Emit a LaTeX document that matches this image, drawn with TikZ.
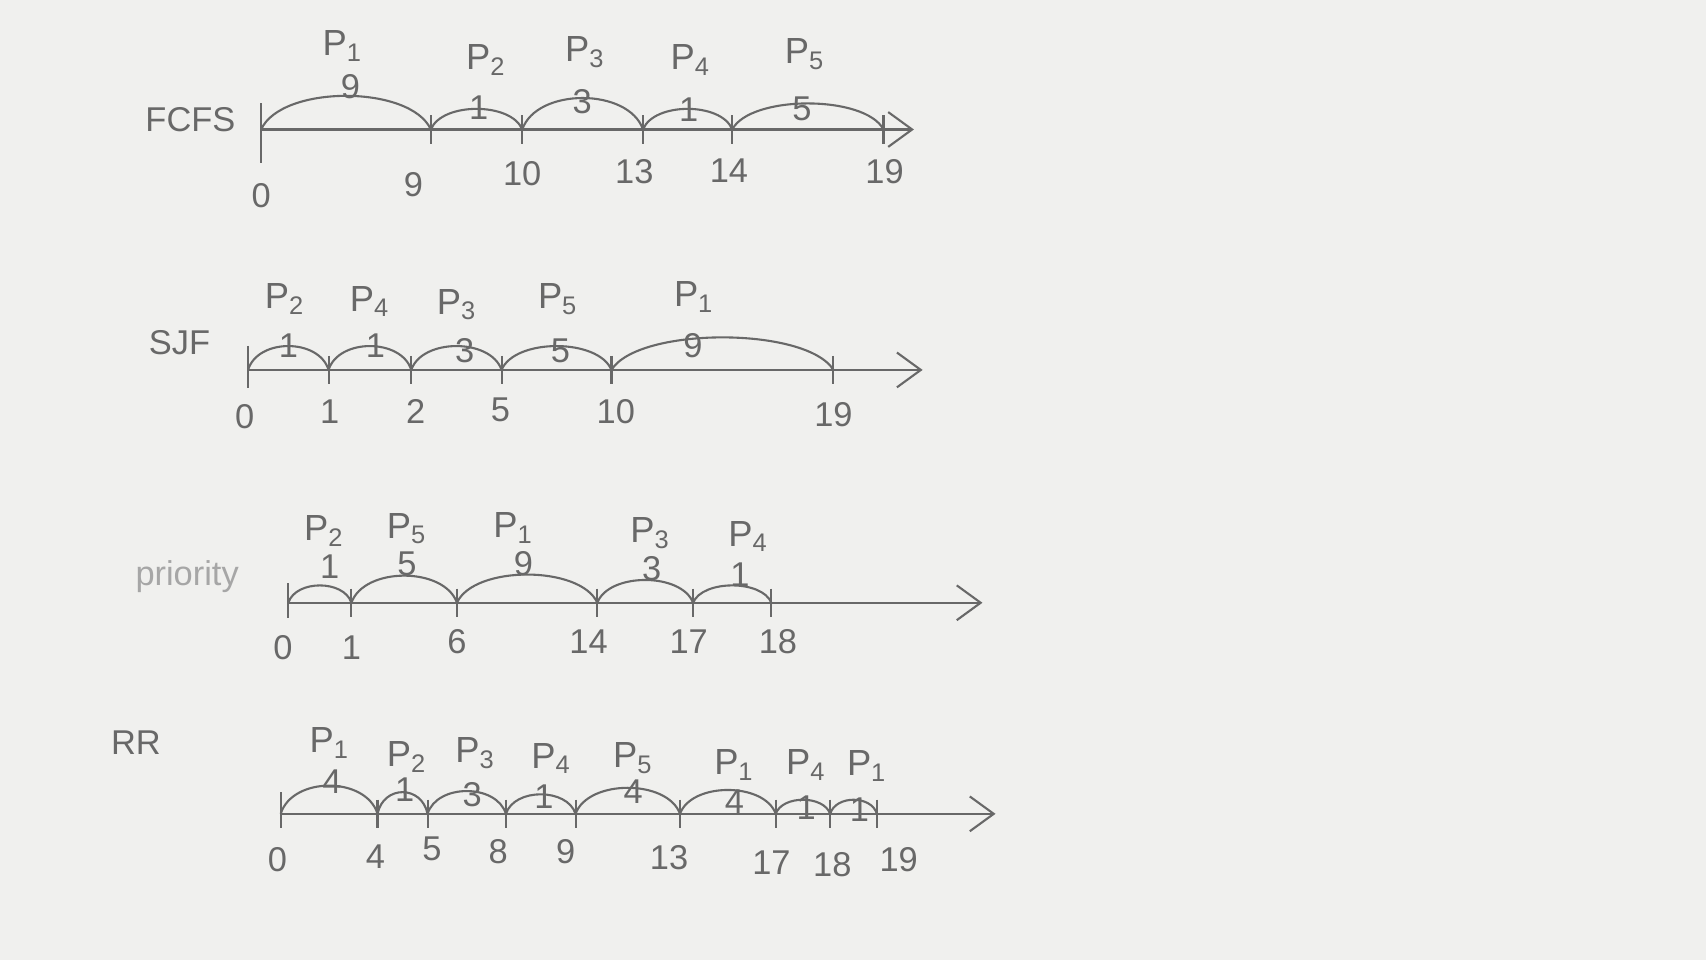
\documentclass[tikz,border=0pt]{standalone}
\usepackage{fontspec}
\setmainfont{Liberation Sans}
\usetikzlibrary{arrows.meta,calc}

\definecolor{paper}{HTML}{F0F0EE}
\definecolor{pencil}{HTML}{686868}
\definecolor{faint}{HTML}{A6A6A6}

\newcommand{\pn}[1]{P\textsubscript{#1}}

\tikzset{
  axis/.style={draw=pencil, line width=0.55pt, -{Straight Barb[length=2.2mm,width=3.2mm]}},
  tickmark/.style={draw=pencil, line width=0.55pt},
  hump/.style={draw=pencil, line width=0.55pt},
  proc/.style={text=pencil, font=\fontsize{9.5}{11}\selectfont, inner sep=0pt},
  num/.style={text=pencil, font=\fontsize{9}{11}\selectfont, inner sep=0pt},
  algo/.style={text=pencil, font=\fontsize{9}{11}\selectfont, inner sep=0pt},
}

\begin{document}
\begin{tikzpicture}[x=0.1mm, y=-0.1mm]
  \fill[paper] (0,0) rectangle (1568,882);
  \useasboundingbox (0,0) rectangle (1568,882);

  % FCFS
  \node[algo] (fcfs) at (175,110) {FCFS};
  \coordinate (fend) at (840,119);
  \foreach \x/\tm/\tx/\ty [count=\i] in {240/0/240/180, 396/9/380/170, 480/10/480/160, 591/13/583/158, 673/14/670/157, 812/19/813/158}{
    \coordinate (f\i) at (\x,119);
    \draw[tickmark] (f\i) ++(0,-13) -- ++(0,26);
    \node[num] (ft\i) at (\tx,\ty) {\tm};
  }
  \draw[tickmark] (f1) ++(0,-24) -- ++(0,55);
  \draw[axis] (f1) -- (fend);
  \foreach \ia/\ib/\h/\pid/\px/\py/\bt/\bx/\by in {1/2/31/1/315/42/9/322/80, 2/3/19/2/447/55/1/440/99, 3/4/29/3/538/48/3/535/93, 4/5/19/4/635/55/1/633/101, 5/6/24/5/740/50/5/737/100}{
    \draw[hump] (f\ia) .. controls ($(f\ia)!.12!(f\ib)+(0,-1.33*\h)$) and ($(f\ib)!.12!(f\ia)+(0,-1.33*\h)$) .. (f\ib);
    \node[proc] (fp\ia) at (\px,\py) {\pn{\pid}};
    \node[num] (fb\ia) at (\bx,\by) {\bt};
  }

  % SJF
  \node[algo] (sjf) at (165,315) {SJF};
  \coordinate (send) at (848,340);
  \foreach \x/\tm/\tx/\ty [count=\i] in {228/0/225/383, 302/1/303/378, 378/2/382/378, 461/5/460/377, 562/10/566/378, 766/19/766/381}{
    \coordinate (s\i) at (\x,340);
    \draw[tickmark] (s\i) ++(0,-13) -- ++(0,26);
    \node[num] (st\i) at (\tx,\ty) {\tm};
  }
  \draw[tickmark] (s1) ++(0,-22) -- ++(0,39);
  \draw[axis] (s1) -- (send);
  \foreach \ia/\ib/\h/\pid/\px/\py/\bt/\bx/\by in {1/2/22/2/262/275/1/265/318, 2/3/22/4/340/277/1/345/318, 3/4/22/3/420/280/3/427/322, 4/5/22/5/513/275/5/515/322, 5/6/30/1/638/273/9/637/318}{
    \draw[hump] (s\ia) .. controls ($(s\ia)!.12!(s\ib)+(0,-1.33*\h)$) and ($(s\ib)!.12!(s\ia)+(0,-1.33*\h)$) .. (s\ib);
    \node[proc] (sp\ia) at (\px,\py) {\pn{\pid}};
    \node[num] (sb\ia) at (\bx,\by) {\bt};
  }

  % priority
  \node[algo, text=faint] (prio) at (172,530) {priority};
  \coordinate (pend) at (903,554);
  \foreach \x/\tm/\tx/\ty [count=\i] in {265/0/260/595, 323/1/323/595, 420/6/420/590, 549/14/541/590, 637/17/633/590, 709/18/715/590}{
    \coordinate (q\i) at (\x,554);
    \draw[tickmark] (q\i) ++(0,-13) -- ++(0,26);
    \node[num] (qt\i) at (\tx,\ty) {\tm};
  }
  \draw[tickmark] (q1) ++(0,-18) -- ++(0,32);
  \draw[axis] (q1) -- (pend);
  \foreach \ia/\ib/\h/\pid/\px/\py/\bt/\bx/\by in {1/2/16/2/298/488/1/303/521, 2/3/25/5/374/486/5/374/518, 3/4/26/1/472/485/9/481/518, 4/5/21/3/598/490/3/599/523, 5/6/16/4/688/493/1/680/528}{
    \draw[hump] (q\ia) .. controls ($(q\ia)!.12!(q\ib)+(0,-1.33*\h)$) and ($(q\ib)!.12!(q\ia)+(0,-1.33*\h)$) .. (q\ib);
    \node[proc] (qp\ia) at (\px,\py) {\pn{\pid}};
    \node[num] (qb\ia) at (\bx,\by) {\bt};
  }

  % RR
  \node[algo] (rr) at (125,683) {RR};
  \coordinate (rend) at (915,748);
  \foreach \x/\tm/\tx/\ty [count=\i] in {258/0/255/790, 347/4/345/787, 393/5/397/780, 465/8/458/783, 529/9/520/783, 625/13/615/788, 713/17/709/793, 763/18/765/795, 806/19/826/790}{
    \coordinate (r\i) at (\x,748);
    \draw[tickmark] (r\i) ++(0,-13) -- ++(0,26);
    \node[num] (rt\i) at (\tx,\ty) {\tm};
  }
  \draw[tickmark] (r1) ++(0,-20) -- ++(0,27);
  \draw[axis] (r1) -- (rend);
  \foreach \ia/\ib/\h/\pid/\px/\py/\bt/\bx/\by in {1/2/26/1/303/683/4/305/718, 2/3/20/2/374/696/1/372/726, 3/4/21/3/437/692/3/434/730, 4/5/18/4/507/697/1/500/732, 5/6/24/5/582/697/4/582/728, 6/7/22/1/675/703/4/675/737, 7/8/13/4/741/703/1/741/742, 8/9/13/1/797/704/1/790/744}{
    \draw[hump] (r\ia) .. controls ($(r\ia)!.12!(r\ib)+(0,-1.33*\h)$) and ($(r\ib)!.12!(r\ia)+(0,-1.33*\h)$) .. (r\ib);
    \node[proc] (rp\ia) at (\px,\py) {\pn{\pid}};
    \node[num] (rb\ia) at (\bx,\by) {\bt};
  }
\end{tikzpicture}
\end{document}
